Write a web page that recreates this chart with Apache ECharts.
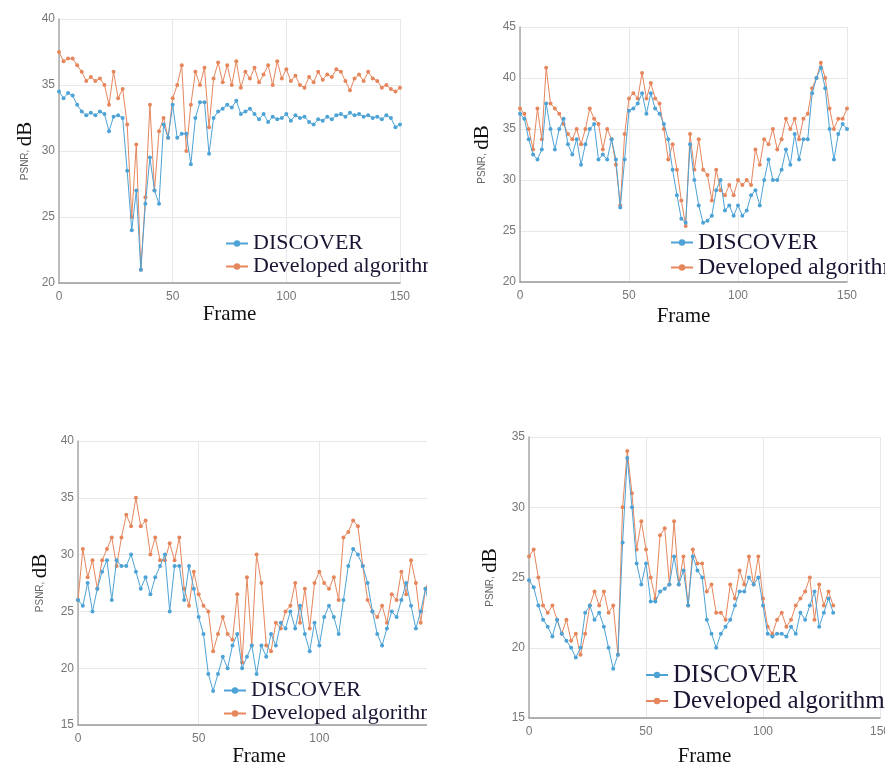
<!DOCTYPE html>
<html>
<head>
<meta charset="utf-8">
<script src="https://cdn.jsdelivr.net/npm/echarts@6/dist/echarts.min.js"></script>
<style>
  html, body { margin: 0; padding: 0; background: #fff; }
  #page { position: relative; width: 885px; height: 770px; overflow: hidden; }
  .panel { position: absolute; overflow: hidden; }
  .chart { position: absolute; left: 0; top: 0; }
</style>
</head>
<body>
<div id="page">
  <div class="panel" style="left:0;top:0;width:428px;height:420px"><div id="c1" class="chart" style="width:440px;height:420px"></div></div>
  <div class="panel" style="left:440px;top:0;width:445px;height:420px"><div id="c2" class="chart" style="width:460px;height:420px"></div></div>
  <div class="panel" style="left:0;top:420px;width:427px;height:350px"><div id="c3" class="chart" style="width:460px;height:350px"></div></div>
  <div class="panel" style="left:440px;top:420px;width:445px;height:350px"><div id="c4" class="chart" style="width:460px;height:350px"></div></div>
</div>
<script>
// frame numbers (every 2nd frame)
var frames = [0,2,4,6,8,10,12,14,16,18,20,22,24,26,28,30,32,34,36,38,40,42,44,46,48,50,52,54,56,58,60,62,64,66,68,70,72,74,76,78,80,82,84,86,88,90,92,94,96,98,100,102,104,106,108,110,112,114,116,118,120,122,124,126,128,130,132,134,136,138,140,142,144,146,148,150]
var frames4 = frames.slice(0, 66)

var seriesNames = ['DISCOVER', 'Developed algorithm']
var xTicks = [0, 50, 100, 150]

// panel 1 (top left)
var discover1 = [34.5,34.0,34.4,34.2,33.5,33.0,32.7,32.9,32.7,33.0,32.8,31.5,32.6,32.7,32.5,28.5,24.0,27.0,21.0,26.0,29.5,27.0,26.0,32.0,31.0,33.5,31.0,31.3,31.3,29.0,32.5,33.7,33.7,29.8,32.5,33.0,33.2,33.5,33.3,33.8,32.8,33.0,33.2,32.8,32.4,32.8,32.2,32.6,32.4,32.5,32.8,32.3,32.7,32.5,32.6,32.2,32.0,32.4,32.3,32.6,32.4,32.7,32.8,32.6,32.9,32.7,32.8,32.6,32.7,32.5,32.6,32.4,32.7,32.5,31.8,32.0]
var developed1 = [37.5,36.8,37.0,37.0,36.5,36.0,35.3,35.6,35.3,35.5,35.0,33.5,36.0,34.0,34.7,32.0,25.0,30.5,21.0,26.5,33.5,27.0,31.5,32.5,31.0,34.0,35.0,36.5,30.0,33.5,36.0,35.0,36.3,31.8,35.5,36.7,35.2,36.5,35.0,36.8,34.8,36.0,35.5,36.3,35.2,35.8,36.5,35.0,36.8,35.5,36.2,35.3,35.7,35.0,34.8,35.6,35.2,36.0,35.4,35.8,35.6,36.2,36.0,35.3,34.6,35.5,35.8,35.3,36.0,35.5,35.3,34.8,35.0,34.7,34.5,34.8]
var yTicks1 = [20, 25, 30, 35, 40]

// panel 2 (top right)
var discover2 = [36.5,36.0,34.0,32.5,32.0,33.0,37.5,35.0,33.0,35.0,36.0,33.5,32.5,34.0,31.5,33.5,35.0,35.5,32.0,32.5,32.0,34.0,32.0,27.3,32.0,36.8,37.0,37.5,38.5,36.5,38.5,37.0,36.5,35.5,34.0,31.0,28.5,26.2,25.8,33.5,30.0,27.5,25.8,26.0,26.5,29.0,30.0,27.0,27.5,26.5,27.5,26.5,27.0,28.5,29.0,27.5,30.0,32.0,30.0,30.0,31.0,33.0,31.5,34.5,32.0,34.0,34.0,38.5,40.0,41.0,39.0,35.0,32.0,34.5,35.5,35.0]
var developed2 = [37.0,36.5,35.0,33.0,37.0,34.0,41.0,37.5,37.0,36.5,35.5,34.5,34.0,35.0,33.5,35.0,37.0,36.0,35.5,33.0,35.0,34.0,31.5,27.5,34.5,38.0,38.5,38.0,40.5,38.0,39.5,38.0,37.5,35.0,32.0,33.5,31.0,28.0,25.5,34.5,31.0,34.0,31.0,30.5,28.0,31.0,29.0,28.5,29.5,28.5,30.0,29.5,30.0,29.5,33.0,31.5,34.0,33.5,35.0,33.0,34.0,36.0,35.0,36.0,34.0,36.0,36.5,39.0,40.0,41.5,40.0,37.0,35.0,36.0,36.0,37.0]
var yTicks2 = [20, 25, 30, 35, 40, 45]

// panel 3 (bottom left)
var discover3 = [26.0,25.5,27.5,25.0,27.0,28.5,29.5,26.0,29.5,29.0,29.0,30.0,28.5,27.0,28.0,26.5,28.0,29.0,30.0,25.0,29.0,29.0,26.0,29.0,27.0,24.5,23.0,19.5,18.0,19.5,21.0,20.0,22.0,23.0,20.0,21.0,22.0,19.5,22.0,21.0,23.0,22.0,24.0,23.5,25.0,23.5,25.5,23.0,21.5,24.0,22.0,24.5,25.5,24.5,23.0,26.0,29.0,30.5,30.0,29.0,27.5,25.0,23.0,22.0,23.5,25.0,24.5,26.0,27.5,25.5,23.5,25.0,27.0,25.0,24.5,25.5]
var developed3 = [26.0,30.5,28.0,29.5,27.0,29.5,30.5,31.5,29.0,31.5,33.5,32.5,35.0,32.5,33.0,30.0,31.5,29.5,29.5,31.0,29.5,31.5,27.0,25.5,28.5,26.5,25.5,25.0,21.5,23.0,24.5,23.0,22.5,26.5,20.5,28.0,22.0,30.0,27.5,22.0,21.5,24.0,23.5,25.0,25.5,27.5,24.0,27.0,23.5,27.5,28.5,27.5,27.0,28.0,26.0,31.5,32.0,33.0,32.5,29.0,26.0,25.0,24.5,25.5,24.0,26.5,26.0,28.5,26.5,29.5,27.5,24.0,27.0,28.0,25.0,27.5]
var yTicks3 = [15, 20, 25, 30, 35, 40]

// panel 4 (bottom right), frames 0..130
var discover4 = [24.8,24.3,23.0,22.0,21.5,20.8,22.0,21.0,20.5,20.0,19.3,20.0,22.5,23.0,22.0,22.5,21.5,20.0,18.5,19.5,27.5,33.5,30.0,26.0,24.5,26.0,23.3,23.3,24.0,24.2,24.5,26.5,24.5,25.5,23.0,26.5,25.5,25.0,22.0,21.0,20.0,21.0,21.5,22.0,23.0,24.0,24.0,25.0,24.5,25.0,23.0,21.0,20.8,21.0,21.0,20.8,21.5,21.0,22.5,22.0,23.0,24.0,21.5,22.5,23.5,22.5]
var developed4 = [26.5,27.0,25.0,23.0,22.5,23.0,22.0,21.0,22.0,20.5,21.0,19.5,21.0,23.0,24.0,23.0,24.0,22.5,23.0,19.5,30.0,34.0,31.0,27.0,29.0,27.0,25.0,23.5,28.0,28.5,24.5,29.0,24.5,26.5,23.0,27.0,26.0,26.0,24.0,24.5,22.5,22.5,22.0,24.5,23.5,25.5,24.5,26.5,24.5,26.5,23.5,21.5,21.0,22.0,22.5,21.5,22.0,23.0,23.5,24.0,25.0,22.0,24.5,23.0,24.0,23.0]
var yTicks4 = [15, 20, 25, 30, 35]

var blue = '#4ea3d6'
var orange = '#e6865c'
var serif = '"Liberation Serif", "DejaVu Serif", serif'
var sans = '"Liberation Sans", Arial, sans-serif'

function pairs(xs, ys) {
  return ys.map(function (v, i) { return [xs[i], v] })
}

function makeOption(cfg) {
  return {
    animation: false,
    backgroundColor: '#fff',
    grid: {
      left: cfg.grid[0],
      top: cfg.grid[1],
      width: cfg.grid[2],
      height: cfg.grid[3],
      outerBoundsMode: 'none'
    },
    legend: {
      data: seriesNames,
      orient: 'vertical',
      left: cfg.legend[0],
      top: cfg.legend[1],
      itemGap: 0,
      itemWidth: 22,
      itemHeight: 8,
      padding: 0,
      textStyle: { fontFamily: serif, fontSize: cfg.legendSize, color: '#1d1433', lineHeight: cfg.legendSize + 1 }
    },
    xAxis: {
      type: 'value',
      min: xTicks[0],
      max: xTicks[xTicks.length - 1],
      interval: 50,
      name: 'Frame',
      nameLocation: 'middle',
      nameGap: cfg.frameGap,
      nameMoveOverlap: false,
      nameTextStyle: { fontFamily: serif, fontSize: 21, color: '#111' },
      axisLine: { lineStyle: { color: '#999', width: 1.5 } },
      axisTick: { show: false },
      axisLabel: { color: '#777', fontFamily: sans, fontSize: 12, margin: 8 },
      splitLine: { show: true, lineStyle: { color: '#e8e8e8' } }
    },
    yAxis: {
      type: 'value',
      min: cfg.yTicks[0],
      max: cfg.yTicks[cfg.yTicks.length - 1],
      interval: 5,
      name: '{a|PSNR,} {b|dB}',
      nameLocation: 'middle',
      nameRotate: 90,
      nameGap: cfg.nameGap,
      nameMoveOverlap: false,
      nameTextStyle: {
        rich: {
          a: { fontFamily: sans, fontSize: 10, color: '#666' },
          b: { fontFamily: serif, fontSize: 21, color: '#111' }
        }
      },
      axisLine: { show: true, lineStyle: { color: '#aaa', width: 1.5 } },
      axisTick: { show: false },
      axisLabel: { color: '#777', fontFamily: sans, fontSize: 12, margin: 4 },
      splitLine: { show: true, lineStyle: { color: '#e8e8e8' } }
    },
    series: [
      {
        name: seriesNames[0],
        type: 'line',
        data: pairs(cfg.xs, cfg.discover),
        symbol: 'circle',
        symbolSize: 4,
        itemStyle: { color: blue },
        lineStyle: { color: blue, width: 1 },
        z: 3
      },
      {
        name: seriesNames[1],
        type: 'line',
        data: pairs(cfg.xs, cfg.developed),
        symbol: 'circle',
        symbolSize: 4,
        itemStyle: { color: orange },
        lineStyle: { color: orange, width: 1 },
        z: 2
      }
    ]
  }
}

var panels = [
  { id: 'c1', grid: [59, 19, 341, 264], legend: [225, 232], legendSize: 22, yTicks: yTicks1, xs: frames, discover: discover1, developed: developed1, nameGap: 23, frameGap: 21 },
  { id: 'c2', grid: [80, 27, 327, 255], legend: [230, 230], legendSize: 24, yTicks: yTicks2, xs: frames, discover: discover2, developed: developed2, nameGap: 27, frameGap: 24 },
  { id: 'c3', grid: [78, 21, 362, 284], legend: [223, 259], legendSize: 22, yTicks: yTicks3, xs: frames, discover: discover3, developed: developed3, nameGap: 27, frameGap: 21 },
  { id: 'c4', grid: [89, 17, 351, 281], legend: [205, 242], legendSize: 25, yTicks: yTicks4, xs: frames4, discover: discover4, developed: developed4, nameGap: 28, frameGap: 28 }
]

panels.forEach(function (p) {
  var chart = echarts.init(document.getElementById(p.id), null, { renderer: 'canvas' })
  chart.setOption(makeOption(p))
})
</script>
</body>
</html>
